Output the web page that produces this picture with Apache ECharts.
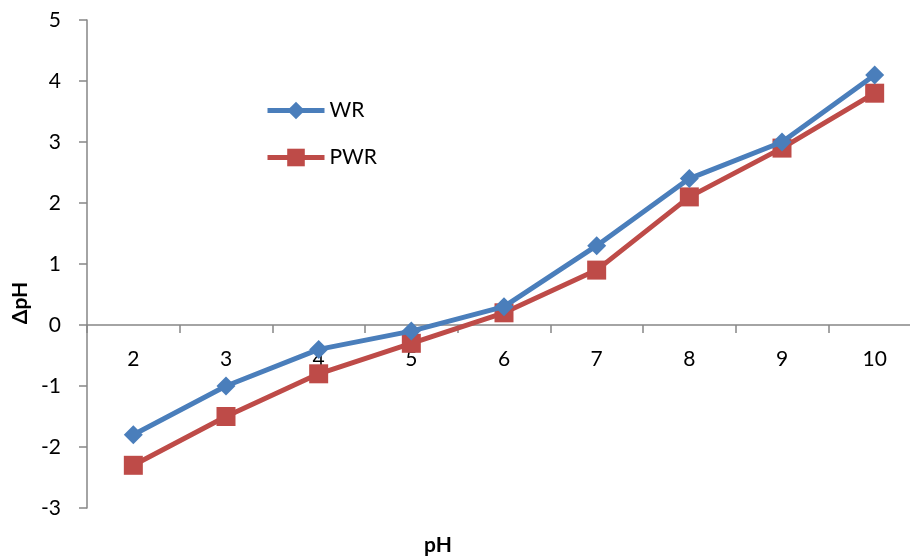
<!DOCTYPE html>
<html>
<head>
<meta charset="utf-8">
<script src="https://cdn.jsdelivr.net/npm/echarts@6/dist/echarts.min.js"></script>
<style>html,body{margin:0;padding:0;background:#fff;overflow:hidden;width:910px;height:559px;}#c{width:940px;height:559px;}</style>
</head>
<body>
<div id="c"></div>
<script>
const categories = ['2','3','4','5','6','7','8','9','10'];
const wrValues = [-1.8, -1.0, -0.4, -0.1, 0.3, 1.3, 2.4, 3.0, 4.1];
const pwrValues = [-2.3, -1.5, -0.8, -0.3, 0.2, 0.9, 2.1, 2.9, 3.8];
const yMin = -3, yMax = 5, yStep = 1;

const FONT = 'Lato, "Open Sans", sans-serif';
const gridTop = 20, gridHeight = 488;
// x axis crosses the value axis at 0: offset it up from the grid bottom
const zeroOffset = -gridHeight * (0 - yMin) / (yMax - yMin);

const chart = echarts.init(document.getElementById('c'), null, {renderer: 'canvas'});
chart.setOption({
  animation: false,
  backgroundColor: '#ffffff',
  grid: {left: 87, top: gridTop, width: 834, height: gridHeight, containLabel: false},
  legend: {
    orient: 'vertical', left: 265, top: 100, padding: 0,
    itemWidth: 57, itemHeight: 22, itemGap: 26,
    lineStyle: {width: 5},
    textStyle: {fontSize: 21, color: '#000', fontFamily: FONT, padding: [0,0,0,0]},
    data: ['WR', 'PWR']
  },
  xAxis: {
    type: 'category', data: categories, boundaryGap: true,
    position: 'bottom', offset: zeroOffset,
    axisLine: {onZero: false, lineStyle: {color: '#868686', width: 1.5}},
    axisTick: {show: true, inside: false, length: 8, lineStyle: {color: '#868686', width: 1.5}},
    axisLabel: {fontSize: 21, color: '#000', fontFamily: FONT, margin: 24},
    splitLine: {show: false}
  },
  yAxis: {
    type: 'value', min: yMin, max: yMax, interval: yStep,
    axisLine: {show: true, lineStyle: {color: '#868686', width: 1.5}},
    axisTick: {show: true, inside: false, length: 8, lineStyle: {color: '#868686', width: 1.5}},
    axisLabel: {fontSize: 21, color: '#000', fontFamily: FONT, margin: 26},
    splitLine: {show: false}
  },
  series: [
    {
      name: 'WR', type: 'line', data: wrValues,
      symbol: 'diamond', symbolSize: 19,
      itemStyle: {color: '#4A7EBB'},
      lineStyle: {color: '#4A7EBB', width: 5},
      z: 3
    },
    {
      name: 'PWR', type: 'line', data: pwrValues,
      symbol: 'rect', symbolSize: 19,
      itemStyle: {color: '#BE4B48'},
      lineStyle: {color: '#BE4B48', width: 5},
      z: 2
    }
  ],
  graphic: [
    {type: 'text', x: 20, y: 303, rotation: Math.PI/2,
     style: {text: 'ΔpH', font: 'bold 21px ' + FONT, fill: '#000', align: 'center', verticalAlign: 'middle'}},
    {type: 'text', x: 438, y: 545,
     style: {text: 'pH', font: 'bold 21px ' + FONT, fill: '#000', align: 'center', verticalAlign: 'middle'}}
  ]
});
</script>
</body>
</html>
